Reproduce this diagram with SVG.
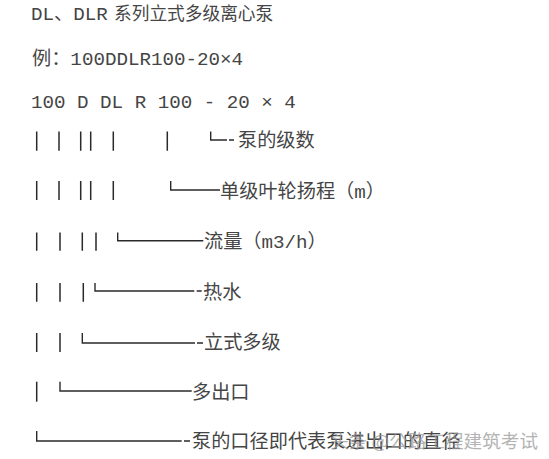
<svg xmlns="http://www.w3.org/2000/svg" width="549" height="459" viewBox="0 0 549 459">
<style>
  .t { font-family: "Liberation Mono", "Noto Sans CJK SC", monospace; font-size: 19.2px; fill: #454545; }
  .cjk { font-family: "Noto Sans CJK SC", sans-serif; }
  .wm { font-family: "Noto Sans CJK SC", sans-serif; font-size: 18px; fill: #9a9a9a; opacity: 0.75; }
  .bar { stroke: #2a2a2a; stroke-width: 1.5; fill: none; }
  .ln { stroke: #2a2a2a; stroke-width: 1.4; fill: none; }
</style>
<rect width="549" height="459" fill="#ffffff"/>

<g id="title">
  <text class="t" x="31" y="19.5">DL、DLR</text>
  <text class="t cjk" x="114" y="19.5" style="font-size:17.7px">系列立式多级离心泵</text>
</g>
<g id="example">
  <text class="t" x="32" y="65">例：100DDLR100-20×4</text>
</g>
<g id="code">
  <text class="t" x="31" y="108">100 D DL R 100 - 20 × 4</text>
</g>

<g id="connectors">
  <!-- row 4 -->
  <path class="bar" d="M36.7 131.5V150.7M59 131.5V150.7M80.7 131.5V150.7M90.7 131.5V150.7M113.3 131.5V150.7M167.3 131.5V150.7"/>
  <path class="ln" d="M210.7 131.5V140H227M229 140H234"/>
  <!-- row 5 -->
  <path class="bar" d="M36.7 181V200M59 181V200M80.7 181V200M90.7 181V200M113.3 181V200"/>
  <path class="ln" d="M170.7 181V190H220"/>
  <!-- row 6 -->
  <path class="bar" d="M36.7 232.5V250.7M60 232.5V250.7M82.3 232.5V250.7M96 232.5V250.7"/>
  <path class="ln" d="M117.7 232.5V240.7H203.3"/>
  <!-- row 7 -->
  <path class="bar" d="M36.7 283V301.7M60 283V301.7M83.3 283V301.7"/>
  <path class="ln" d="M95 283V291H194.3M196.7 291H201.7"/>
  <!-- row 8 -->
  <path class="bar" d="M36.7 333V352M60 333V352"/>
  <path class="ln" d="M82.3 333V343H195M197 343H203"/>
  <!-- row 9 -->
  <path class="bar" d="M36.7 381.7V401.7"/>
  <path class="ln" d="M60 381.7V391H191.7"/>
  <!-- row 10 -->
  <path class="ln" d="M36.7 431V441H181.7M184 441H190"/>
</g>

<g id="label-stages"><text class="t" x="238" y="147">泵的级数</text></g>
<g id="label-head"><text class="t" x="220" y="198">单级叶轮扬程（m）</text></g>
<g id="label-flow"><text class="t" x="204" y="248">流量（m3/h）</text></g>
<g id="label-hot"><text class="t" x="203" y="299">热水</text></g>
<g id="label-vertical"><text class="t" x="204" y="349">立式多级</text></g>
<g id="label-outlet"><text class="t" x="192" y="399">多出口</text></g>
<g id="label-diameter">
  <text class="t" x="192" y="448">泵的口径即代表泵进出口的直径</text>
  <text class="wm" x="330" y="448" textLength="208" lengthAdjust="spacingAndGlyphs">头条 @公路工程建筑考试</text>
</g>
</svg>
